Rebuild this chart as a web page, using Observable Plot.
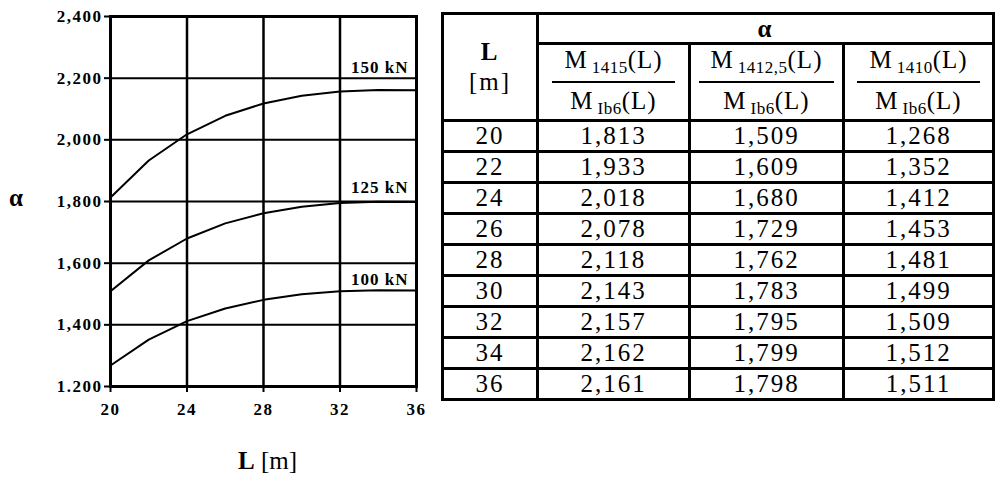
<!DOCTYPE html>
<html><head><meta charset="utf-8">
<script src="https://cdn.jsdelivr.net/npm/d3@7"></script>
<script src="https://cdn.jsdelivr.net/npm/@observablehq/plot@0.6"></script>
<style>
html,body{margin:0;padding:0;background:#fff;}
body{width:999px;height:478px;overflow:hidden;position:relative;font-family:"Liberation Serif","Times New Roman",serif;color:#000;}
#chart{position:absolute;left:0;top:0;}
#chart svg g[aria-label*="tick label"] text{letter-spacing:1.5px;}
#chart svg g[aria-label="text"] text{letter-spacing:1px;}
#alpha{position:absolute;left:9px;top:186px;font-size:25px;line-height:24px;font-weight:bold;}
#xlabel{position:absolute;left:238px;top:447px;font-size:25px;line-height:28px;}
#tbl{position:absolute;left:441px;top:12px;border-collapse:collapse;font-size:25px;letter-spacing:2px;}
#tbl td{border:3px solid #000;padding:0;text-align:center;vertical-align:middle;line-height:26px;}
#tbl tr.data td{height:28px;}
.frac{display:inline-block;text-align:center;letter-spacing:1px;}
.num{border-bottom:2px solid #000;padding:0 12px 3px 12px;line-height:30px;}
.den{line-height:30px;padding-top:3px;}
.sub{font-size:17px;position:relative;top:5px;margin-left:4px;letter-spacing:0.5px;}
</style>
</head><body>
<div id="chart"></div>
<div id="alpha">α</div>
<div id="xlabel"><b>L</b> [m]</div>
<table id="tbl"></table>
<script>
// ---- data ----
const L = [20, 22, 24, 26, 28, 30, 32, 34, 36];
const a150 = [1.813, 1.933, 2.018, 2.078, 2.118, 2.143, 2.157, 2.162, 2.161];
const a125 = [1.509, 1.609, 1.680, 1.729, 1.762, 1.783, 1.795, 1.799, 1.798];
const a100 = [1.268, 1.352, 1.412, 1.453, 1.481, 1.499, 1.509, 1.512, 1.511];
const seriesNames = ["150 kN", "125 kN", "100 kN"];
const labelY = [2.235, 1.844, 1.547];
const yTicks = [1.2, 1.4, 1.6, 1.8, 2.0, 2.2, 2.4];
const yTickLabels = ["1.200", "1,400", "1,600", "1,800", "2,000", "2,200", "2,400"];
const xTicks = [20, 24, 28, 32, 36];
const tableCells = ["20","22","24","26","28","30","32","34","36"];
const col150 = ["1,813","1,933","2,018","2,078","2,118","2,143","2,157","2,162","2,161"];
const col125 = ["1,509","1,609","1,680","1,729","1,762","1,783","1,795","1,799","1,798"];
const col100 = ["1,268","1,352","1,412","1,453","1,481","1,499","1,509","1,512","1,511"];
const subs = ["1415", "1412,5", "1410"];

const series = [a150, a125, a100];
const lineData = [];
series.forEach((arr, s) => arr.forEach((v, i) => lineData.push({L: L[i], a: v, s: seriesNames[s]})));
const labelData = seriesNames.map((n, i) => ({x: 36, y: labelY[i], t: n}));
const FF = "'Liberation Serif', 'Times New Roman', serif";

const plot = Plot.plot({
  width: 440, height: 478,
  marginLeft: 110, marginRight: 24, marginTop: 16, marginBottom: 92,
  x: {domain: [20, 36]},
  y: {domain: [1.2, 2.4]},
  style: {fontFamily: FF, color: "#000", background: "#fff", overflow: "visible"},
  marks: [
    Plot.gridY(yTicks.slice(1, -1), {stroke: "#000", strokeOpacity: 1, strokeWidth: 2}),
    Plot.gridX(xTicks.slice(1, -1), {stroke: "#000", strokeOpacity: 1, strokeWidth: 2.5}),
    Plot.line(lineData, {x: "L", y: "a", z: "s", stroke: "#000", strokeWidth: 2}),
    Plot.frame({stroke: "#000", strokeWidth: 3}),
    Plot.axisY(yTicks, {tickSize: 6, tickPadding: 2, label: null, strokeWidth: 2,
      fontSize: 17, fontWeight: "bold", fontFamily: FF, fill: "#000",
      tickFormat: d => yTickLabels[yTicks.findIndex(t => Math.abs(t - d) < 1e-9)]}),
    Plot.axisX(xTicks, {tickSize: 6, tickPadding: 10, label: null, strokeWidth: 2,
      fontSize: 17, fontWeight: "bold", fontFamily: FF, fill: "#000"}),
    Plot.text(labelData, {x: "x", y: "y", text: "t", textAnchor: "end", dx: -8, fontSize: 17, fontWeight: "bold", fontFamily: FF, fill: "#000"})
  ]
});
document.getElementById("chart").appendChild(plot);

// ---- table ----
const tbl = document.getElementById("tbl");
const widths = [92, 149, 151, 147];
let html = `<tr style="height:30px"><td rowspan="2" style="width:${widths[0]}px;line-height:30px"><b>L</b><br>[m]</td><td colspan="3" style="font-weight:bold">α</td></tr>`;
html += `<tr style="height:75px">` + subs.map((s, i) =>
  `<td style="width:${widths[i+1]}px"><div class="frac"><div class="num">M<span class="sub">${s}</span>(L)</div><div class="den">M<span class="sub">Ib6</span>(L)</div></div></td>`).join("") + `</tr>`;
tableCells.forEach((c, i) => {
  html += `<tr class="data"><td>${c}</td><td>${col150[i]}</td><td>${col125[i]}</td><td>${col100[i]}</td></tr>`;
});
tbl.innerHTML = html;
</script>
</body></html>
